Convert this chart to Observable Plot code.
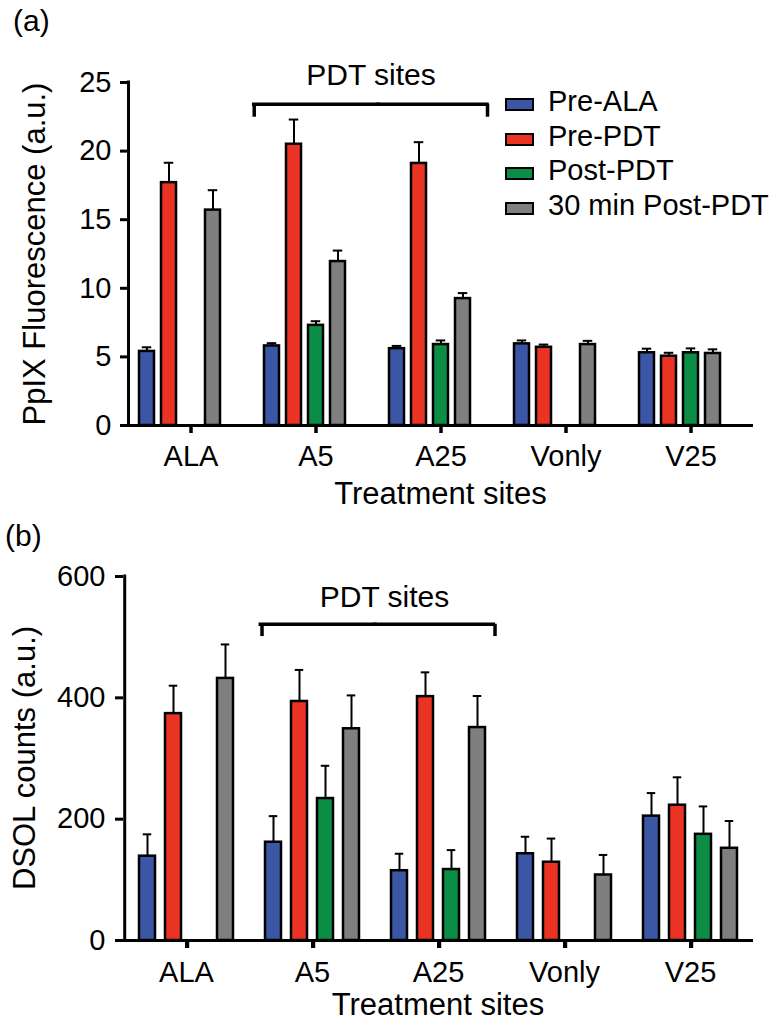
<!DOCTYPE html>
<html><head><meta charset="utf-8">
<script src="https://cdn.jsdelivr.net/npm/d3@7"></script>
<script src="https://cdn.jsdelivr.net/npm/@observablehq/plot@0.6"></script>
<style>
body{margin:0;background:#fff;}
#root{position:relative;width:780px;height:1028px;overflow:hidden;font-family:"Liberation Sans",Arial,Helvetica,sans-serif;color:#000;}
.abs{position:absolute;white-space:nowrap;line-height:1;}
.panel{position:absolute;left:0;}
.ylab{position:absolute;transform:translate(-50%,-50%) rotate(-90deg);white-space:nowrap;line-height:1;font-size:31px;}
.xlab{position:absolute;text-align:center;font-size:31px;line-height:1;white-space:nowrap;}
.sw{position:absolute;box-sizing:border-box;width:29px;height:13px;border:2.5px solid #000;}
</style></head>
<body><div id="root"></div>
<script>
// ---------- data ----------
const sites = ["ALA", "A5", "A25", "Vonly", "V25"];
const seriesNames = ["Pre-ALA", "Pre-PDT", "Post-PDT", "30 min Post-PDT"];
const seriesColors = ["#3c56a6", "#eb3323", "#0b8d45", "#7f7f7f"];

// (a) PpIX fluorescence (a.u.)
const ppixPreALA     = [5.4, 5.8, 5.6, 5.95, 5.3];
const ppixPreALAErr  = [0.3, 0.2, 0.2, 0.25, 0.3];
const ppixPrePDT     = [17.7, 20.5, 19.1, 5.7, 5.05];
const ppixPrePDTErr  = [1.45, 1.8, 1.55, 0.2, 0.25];
const ppixPostPDT    = [null, 7.3, 5.9, null, 5.3];
const ppixPostPDTErr = [null, 0.3, 0.3, null, 0.32];
const ppix30min      = [15.7, 11.95, 9.25, 5.9, 5.25];
const ppix30minErr   = [1.45, 0.8, 0.4, 0.27, 0.3];
const ppixTicks = [0, 5, 10, 15, 20, 25];

// (b) DSOL counts (a.u.)
const dsolPreALA     = [139, 162, 115, 143, 205];
const dsolPreALAErr  = [36, 43, 28, 28, 38];
const dsolPrePDT     = [374, 394, 402, 129, 223];
const dsolPrePDTErr  = [46, 52, 40, 39, 46];
const dsolPostPDT    = [null, 234, 117, null, 175];
const dsolPostPDTErr = [null, 54, 32, null, 46];
const dsol30min      = [432, 349, 351, 108, 152];
const dsol30minErr   = [56, 55, 52, 33, 45];
const dsolTicks = [0, 200, 400, 600];

const pdtSites = ["A5", "A25"];

// ---------- helpers ----------
function buildRows(vals, errs) {
  const out = [];
  seriesNames.forEach((s, j) => sites.forEach((site, i) => {
    const v = vals[j][i];
    if (v != null) out.push({site, series: s, value: v, err: errs[j][i]});
  }));
  return out;
}

const FONT = '"Liberation Sans", Arial, Helvetica, sans-serif';

function chart(c) {
  const data = buildRows(c.vals, c.errs);
  const facetW = (780 - c.ml - c.mr) / sites.length;
  const n = c.slots.length;
  const step = facetW / (n - c.pi + 2 * c.po);
  const c0 = c.po * step + step * (1 - c.pi) / 2;   // centre of first slot from facet start
  const frameH = c.height - c.mt - c.mb;
  const tickLen = 8 * c.ymax / frameH;              // 8px expressed in data units
  const slot0 = () => c.slots[0];
  return Plot.plot({
    width: 780, height: c.height,
    marginTop: c.mt, marginBottom: c.mb, marginLeft: c.ml, marginRight: c.mr,
    style: {fontFamily: FONT, fontSize: "29px", color: "#000", background: "transparent", overflow: "visible"},
    fx: {domain: sites, padding: 0, label: null},
    x: {domain: c.slots, paddingInner: c.pi, paddingOuter: c.po, axis: null},
    y: {domain: [0, c.ymax], label: null},
    color: {domain: seriesNames, range: seriesColors},
    marks: [
      Plot.barY(data, {fx: "site", x: "series", y: "value", fill: "series", stroke: "#000", strokeWidth: 2.5}),
      Plot.ruleX(data, {fx: "site", x: "series", y1: "value", y2: d => d.value + d.err, stroke: "#000", strokeWidth: 2}),
      Plot.tickY(data, {fx: "site", x: "series", y: d => d.value + d.err, stroke: "#000", strokeWidth: 2, inset: c.capInset}),
      Plot.ruleY([0], {stroke: "#000", strokeWidth: 3}),
      // y-axis line at the left edge of the first facet
      Plot.ruleX([sites[0]], {fx: d => d, x: slot0, y1: 0, y2: c.ymax, dx: -c0, stroke: "#000", strokeWidth: 3, strokeLinecap: "square"}),
      // category tick marks at facet centres
      Plot.ruleX(sites, {fx: d => d, x: slot0, y1: 0, y2: -tickLen, dx: facetW / 2 - c0, stroke: "#000", strokeWidth: 3}),
      Plot.axisY({ticks: c.ticks, tickSize: 8, tickPadding: c.ytp, strokeWidth: 3, label: null, fontSize: 29}),
      Plot.axisFx({anchor: "bottom", tickSize: 8, tickPadding: c.xtp, strokeWidth: 3, label: null, fontSize: 29}),
      // "PDT sites" bracket
      Plot.ruleY([pdtSites[0]], {fx: d => d, y: () => c.bH, insetLeft: c.bL, stroke: "#000", strokeWidth: 3.5, strokeLinecap: "square"}),
      Plot.ruleY([pdtSites[1]], {fx: d => d, y: () => c.bH, insetRight: facetW - c.bR, stroke: "#000", strokeWidth: 3.5, strokeLinecap: "square"}),
      Plot.ruleX([pdtSites[0]], {fx: d => d, x: slot0, y1: () => c.bLeg, y2: () => c.bH, dx: c.bL - c0, stroke: "#000", strokeWidth: 3.5}),
      Plot.ruleX([pdtSites[1]], {fx: d => d, x: slot0, y1: () => c.bLeg, y2: () => c.bH, dx: c.bR - c0, stroke: "#000", strokeWidth: 3.5}),
      Plot.text([pdtSites[0]], {fx: d => d, y: () => c.tY, dx: c.tDx, text: () => "PDT sites", fontSize: 30, fill: "#000"})
    ]
  });
}

const root = document.getElementById("root");
function addPanel(svg, top) {
  const d = document.createElement("div");
  d.className = "panel";
  d.style.top = top + "px";
  d.appendChild(svg);
  root.appendChild(d);
}
function addText(cls, txt, styles) {
  const d = document.createElement("div");
  d.className = cls;
  d.textContent = txt;
  Object.assign(d.style, styles);
  root.appendChild(d);
  return d;
}

addPanel(chart({
  vals: [ppixPreALA, ppixPrePDT, ppixPostPDT, ppix30min],
  errs: [ppixPreALAErr, ppixPrePDTErr, ppixPostPDTErr, ppix30minErr],
  height: 510, mt: 82, mb: 85, ml: 128, mr: 27,
  slots: [...seriesNames, "gap"], pi: 0.34, po: 0.51,
  ymax: 25, ticks: ppixTicks, ytp: 9, xtp: 12, capInset: 2.75,
  bH: 23.42, bLeg: 22.47, bL: 0.7, bR: 109, tY: 25.53, tDx: 55
}), 0);

addPanel(chart({
  vals: [dsolPreALA, dsolPrePDT, dsolPostPDT, dsol30min],
  errs: [dsolPreALAErr, dsolPrePDTErr, dsolPostPDTErr, dsol30minErr],
  height: 528, mt: 76, mb: 88, ml: 123, mr: 27,
  slots: seriesNames, pi: 0.384, po: 0.542,
  ymax: 600, ticks: dsolTicks, ytp: 10, xtp: 13, capInset: 3.75,
  bH: 521.3, bLeg: 501, bL: 11.3, bR: 118.3, tY: 565.2, tDx: 72
}), 500);

// panel letters
addText("abs", "(a)", {left: "13px", top: "6px", fontSize: "30px"});
addText("abs", "(b)", {left: "5px", top: "521px", fontSize: "30px"});
// axis titles
addText("ylab", "PpIX Fluorescence (a.u.)", {left: "34px", top: "254px"});
addText("ylab", "DSOL counts (a.u.)", {left: "24px", top: "758px"});
addText("xlab", "Treatment sites", {left: "128px", width: "625px", top: "478px"});
addText("xlab", "Treatment sites", {left: "123px", width: "630px", top: "989px"});

// legend (panel a)
seriesNames.forEach((s, i) => {
  const sw = document.createElement("div");
  sw.className = "sw";
  Object.assign(sw.style, {left: "505px", top: (98.3 + i * 34.5) + "px", background: seriesColors[i]});
  root.appendChild(sw);
  addText("abs", s, {left: "548px", top: (87.2 + i * 34.5) + "px", fontSize: "29px"});
});
</script></body></html>
